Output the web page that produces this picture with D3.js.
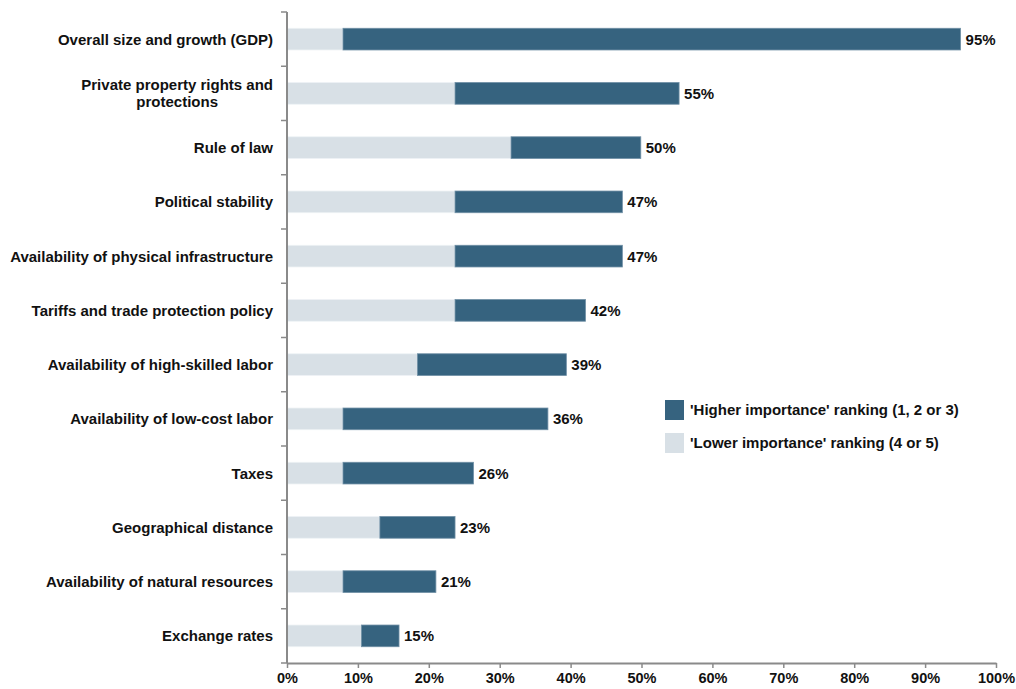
<!DOCTYPE html>
<html><head><meta charset="utf-8">
<script src="https://cdn.jsdelivr.net/npm/d3@7"></script>
<style>body{margin:0;background:#fff;}svg{display:block;font-family:"Liberation Sans",Arial,sans-serif;}</style>
</head><body>
<script>
const categories = [
  "Overall size and growth (GDP)",
  "Private property rights and|protections",
  "Rule of law",
  "Political stability",
  "Availability of physical infrastructure",
  "Tariffs and trade protection policy",
  "Availability of high-skilled labor",
  "Availability of low-cost labor",
  "Taxes",
  "Geographical distance",
  "Availability of natural resources",
  "Exchange rates"
];
const lowerValues  = [7.9, 23.7, 31.6, 23.7, 23.7, 23.7, 18.4, 7.9, 7.9, 13.1, 7.9, 10.5];
const higherValues = [95, 55.3, 49.9, 47.3, 47.3, 42.1, 39.4, 36.8, 26.3, 23.7, 21, 15.8];
const valueLabels  = ["95%","55%","50%","47%","47%","42%","39%","36%","26%","23%","21%","15%"];
const xTicks = [0,10,20,30,40,50,60,70,80,90,100];
const legendItems = ["'Higher importance' ranking (1, 2 or 3)", "'Lower importance' ranking (4 or 5)"];

const W = 1016, H = 689;
const dark = "#36637f", light = "#d8e0e6", axisColor = "#8a8a8a", textColor = "#111";
const FS = 15;
const svg = d3.select("body").append("svg").attr("width", W).attr("height", H);

const x = d3.scaleLinear().domain([0, 100]).range([287, 996]);
const y = d3.scaleBand().domain(categories).range([12, 663]).paddingInner(0.6).paddingOuter(0.3);

// bars
const g = svg.append("g");
categories.forEach((c, i) => {
  g.append("rect").attr("x", x(0)).attr("y", y(c)).attr("width", x(lowerValues[i]) - x(0))
    .attr("height", y.bandwidth()).attr("fill", light).attr("stroke", "#eef2f5").attr("stroke-width", 0.8);
  g.append("rect").attr("x", x(lowerValues[i])).attr("y", y(c)).attr("width", x(higherValues[i]) - x(lowerValues[i]))
    .attr("height", y.bandwidth()).attr("fill", dark).attr("stroke", "#6f8fa5").attr("stroke-width", 0.8);
  g.append("text").attr("x", x(higherValues[i]) + 5).attr("y", y(c) + y.bandwidth()/2)
    .attr("dy", "0.36em").attr("font-size", FS).attr("font-weight", "bold").attr("fill", textColor)
    .text(valueLabels[i]);
});

// y axis: line + ticks at band boundaries
const step = y.step();
const y0 = 12;
svg.append("line").attr("x1", x(0)).attr("x2", x(0)).attr("y1", y0).attr("y2", 663)
  .attr("stroke", axisColor).attr("stroke-width", 2);
d3.range(categories.length + 1).forEach(k => {
  svg.append("line").attr("x1", x(0) - 6).attr("x2", x(0)).attr("y1", y0 + k*step).attr("y2", y0 + k*step)
    .attr("stroke", axisColor).attr("stroke-width", 1.5);
});
categories.forEach(c => {
  const lines = c.split("|");
  const cy = y(c) + y.bandwidth()/2;
  const t = svg.append("text").attr("font-size", FS).attr("font-weight", "bold").attr("fill", textColor);
  if (lines.length === 1) {
    t.attr("text-anchor", "end").append("tspan").attr("x", 273).attr("y", cy).attr("dy", "0.36em").text(lines[0]);
  } else {
    const a = t.append("tspan").attr("x", 273).attr("y", cy - 8.5).attr("dy", "0.36em").attr("text-anchor", "end").text(lines[0]);
    const wdt = a.node().getComputedTextLength();
    const mid = 273 - wdt/2;
    t.append("tspan").attr("x", mid).attr("y", cy + 8.5).attr("dy", "0.36em").attr("text-anchor", "middle").text(lines[1]);
  }
});

// x axis
const xa = svg.append("g").attr("transform", "translate(0,663)")
  .call(d3.axisBottom(x).tickValues(xTicks).tickFormat(d => d + "%").tickSize(5).tickSizeOuter(0));
xa.select(".domain").attr("stroke", axisColor).attr("stroke-width", 2);
xa.selectAll(".tick line").attr("stroke", axisColor).attr("stroke-width", 1.5);
xa.selectAll(".tick text").attr("font-size", 14.5).attr("font-weight", "bold").attr("fill", textColor)
  .attr("font-family", "Liberation Sans, Arial, sans-serif").attr("y", 10);

// legend
const legColors = [dark, light];
legendItems.forEach((t, i) => {
  const ly = 400 + i*33;
  svg.append("rect").attr("x", 665).attr("y", ly).attr("width", 19).attr("height", 20).attr("fill", legColors[i]);
  svg.append("text").attr("x", 690).attr("y", ly + 10).attr("dy", "0.36em").attr("font-size", FS)
    .attr("font-weight", "bold").attr("fill", textColor).text(t);
});
</script>
</body></html>
